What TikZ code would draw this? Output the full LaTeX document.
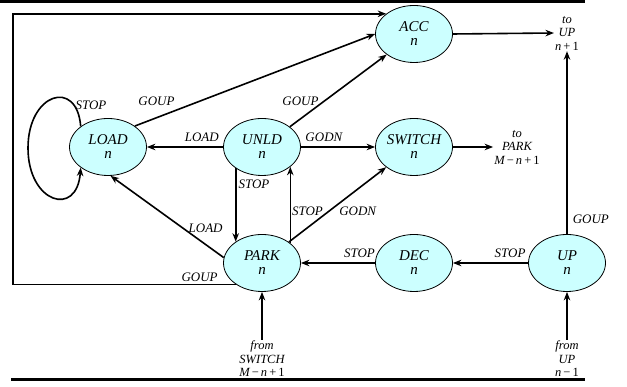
\documentclass[tikz,border=0pt]{standalone}
\usepackage{fontspec}
\setmainfont{Liberation Serif}
\usetikzlibrary{positioning, arrows.meta, shapes.geometric}
\definecolor{statefill}{HTML}{CCFFFF}

\begin{document}
\begin{tikzpicture}[x=1pt, y=1pt, >={Stealth[length=8.5pt, width=6.5pt]},
		state/.style={draw, ellipse, line width=0.8pt, fill=statefill, minimum width=77pt, minimum height=57pt, inner sep=0pt, align=center, font=\itshape\fontsize{15}{14}\selectfont},
		lbl/.style={font=\itshape\fontsize{13}{13}\selectfont, inner sep=1pt},
		note/.style={align=center, inner sep=1pt, font=\itshape\fontsize{12.5}{13.5}\selectfont},
		trans/.style={->, line width=1.6pt}]
		\useasboundingbox (0,0) rectangle (627,387);

		% rules above and below
		\draw [line width=2.7pt] (0,385.7) -- (585,385.7);
		\draw [line width=2.7pt] (11,7.3) -- (585,7.3);

		\node[state] (acc) at (414,353) {ACC\\n};
		\node[state] (load) at (108,240) {LOAD\\n};
		\node[state] (unld) at (262,240) {UNLD\\n};
		\node[state] (switch) at (414,240) {SWITCH\\n};
		\node[state] (park) at (262,124) {PARK\\n};
		\node[state] (dec) at (414,124) {DEC\\n};
		\node[state] (up) at (567,124) {UP\\n};

		\node[note] (toup) at (567,354) {to\\UP\\n\upshape\,+\,1};
		\node[note] (topark) at (517,240) {to\\PARK\\M\upshape\,−\,\itshape n\upshape\,+\,1};
		\node[note] (fromswitch) at (262,28) {from\\SWITCH\\M\upshape\,−\,\itshape n\upshape\,+\,1};
		\node[note] (fromup) at (567,28) {from\\UP\\n\upshape\,−\,1};
		\coordinate (frame) at (13,200);

		\draw [trans] (load.143) .. controls (77,309) and (28,294) .. (28,239) node [lbl, pos=0.2, right] {STOP}
			.. controls (28,184) and (77,169) .. (load.217);
		\draw [trans] (load.38) -- (acc.west) node [lbl, pos=0.09, above=10pt] {GOUP};
		\draw [trans] (unld.36) -- (acc.217) node [lbl, pos=0.11, above=11pt] {GOUP};
		\draw [trans] (unld.west) -- (load.east) node [lbl, pos=0.28, above=3.5pt] {LOAD};
		\draw [trans] (unld.east) -- (switch.west) node [lbl, pos=0.31, above=3.5pt] {GODN};
		\draw [trans] (unld.219) -- (park.141) node [lbl, pos=0.22, right=1pt] {STOP};
		\draw [trans] (park.35) -- (unld.325) node [lbl, pos=0.42, right] {STOP};
		\draw [trans] (park.38) -- (switch.216) node [lbl, pos=0.5, anchor=north west] {GODN};
		\draw [trans] (park.172) -- (load.275) node [lbl, pos=0.16, above=10pt] {LOAD};
		\draw [trans] (dec.west) -- (park.east) node [lbl, pos=0.21, above=3.5pt] {STOP};
		\draw [trans] (up.west) -- (dec.east) node [lbl, pos=0.24, above=3.5pt] {STOP};
		\draw [trans] (acc.east) -- (toup.west);
		\draw [trans] (switch.east) -- (topark.west);
		\draw [trans] (up.north) -- (toup.south) node [lbl, pos=0.08, right=4pt] {GOUP};
		\draw [trans] (fromswitch.north) -- (park.south);
		\draw [trans] (fromup.north) -- (up.south);
		\draw [trans] (park.220) -- (park.220 -| frame) node [lbl, pos=0.164, above=1pt] {GOUP} |- (acc.144);
	\end{tikzpicture}
\end{document}
